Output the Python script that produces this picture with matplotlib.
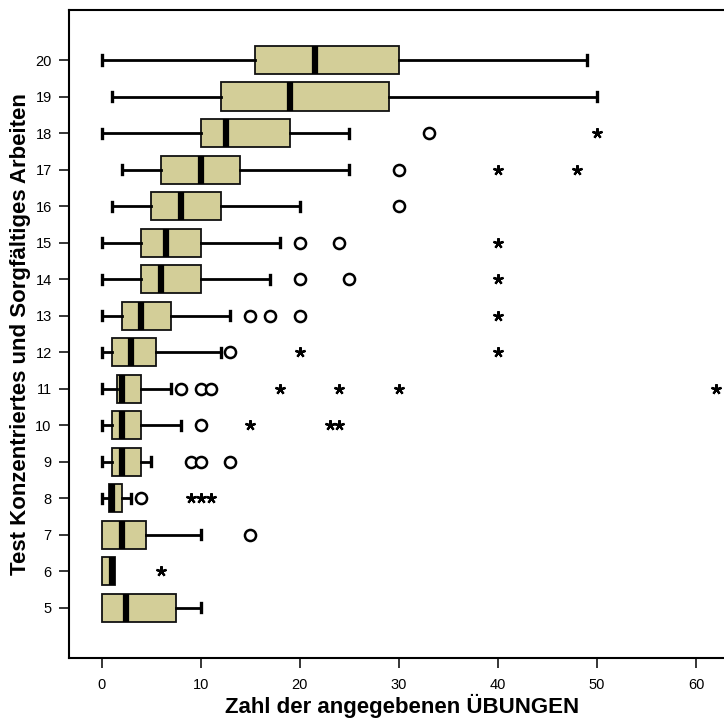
import matplotlib
matplotlib.use('Agg')
import matplotlib.pyplot as plt

plt.rcParams['font.family'] = ['Liberation Sans', 'DejaVu Sans']

# Categories (y axis) and box statistics
cats = [5, 6, 7, 8, 9, 10, 11, 12, 13, 14, 15, 16, 17, 18, 19, 20]
q1 = [0, 0, 0, 0.7, 1, 1, 1.5, 1, 2, 4, 4, 5, 6, 10, 12, 15.5]
med = [2.5, 1, 2, 1, 2, 2, 2, 3, 4, 6, 6.5, 8, 10, 12.5, 19, 21.5]
q3 = [7.5, 1.3, 4.5, 2, 4, 4, 4, 5.5, 7, 10, 10, 12, 14, 19, 29, 30]
whislo = [0, 0, 0, 0, 0, 0, 0, 0, 0, 0, 0, 1, 2, 0, 1, 0]
whishi = [10, 1.3, 10, 3, 5, 8, 7, 12, 13, 17, 18, 20, 25, 25, 50, 49]

# Outliers (circles) and extreme values (stars)
outliers = {7: [15], 8: [4], 9: [9, 10, 13], 10: [10], 11: [8, 10, 11],
            12: [13], 13: [15, 17, 20], 14: [20, 25], 15: [20, 24],
            16: [30], 17: [30], 18: [33]}
extremes = {6: [6], 8: [9, 10, 11], 10: [15, 23, 24], 11: [18, 24, 30, 62],
            12: [20, 40], 13: [40], 14: [40], 15: [40], 17: [40, 48], 18: [50]}

fig = plt.figure(figsize=(7.24, 7.24), dpi=100)
ax = fig.add_axes([0.0953, 0.0912, 0.921, 0.895])

stats = []
for i in range(len(cats)):
    stats.append({'med': med[i], 'q1': q1[i], 'q3': q3[i],
                  'whislo': whislo[i], 'whishi': whishi[i], 'fliers': []})

bp = ax.bxp(stats, positions=cats, vert=False, widths=0.77, capwidths=0.25,
            patch_artist=True, showfliers=False,
            boxprops=dict(facecolor='#d3ce98', edgecolor='#111111', linewidth=1.3),
            medianprops=dict(color='black', linewidth=4.5, solid_capstyle='butt'),
            whiskerprops=dict(color='black', linewidth=2.0),
            capprops=dict(color='black', linewidth=2.4))

# no whisker/cap where the whisker coincides with the box edge
for i in range(len(cats)):
    if whislo[i] == q1[i]:
        bp['caps'][2 * i].set_visible(False)
    if whishi[i] == q3[i]:
        bp['caps'][2 * i + 1].set_visible(False)

for c, vals in outliers.items():
    ax.plot(vals, [c] * len(vals), linestyle='none', marker='o', markersize=8,
            markerfacecolor='white', markeredgecolor='black', markeredgewidth=1.8)
for c, vals in extremes.items():
    ax.plot(vals, [c] * len(vals), linestyle='none', marker=(5, 2, 0), markersize=7.5,
            color='black', markeredgewidth=1.6, clip_on=False)

ax.set_xlim(-3.3, 64)
ax.set_ylim(3.63, 21.37)
ax.set_xticks([0, 10, 20, 30, 40, 50, 60])
ax.set_yticks(cats)
ax.tick_params(axis='both', direction='out', length=7.5, width=1.1, labelsize=10.5, pad=5)
ax.tick_params(axis='x', pad=7)
for s in ax.spines.values():
    s.set_linewidth(1.5)
ax.spines['right'].set_visible(False)

ax.set_xlabel('Zahl der angegebenen ÜBUNGEN', fontsize=16, fontweight='bold', labelpad=1)
ax.set_ylabel('Test Konzentriertes und Sorgfältiges Arbeiten', fontsize=16,
              fontweight='bold', labelpad=3)

fig.savefig('out.png', dpi=100)
